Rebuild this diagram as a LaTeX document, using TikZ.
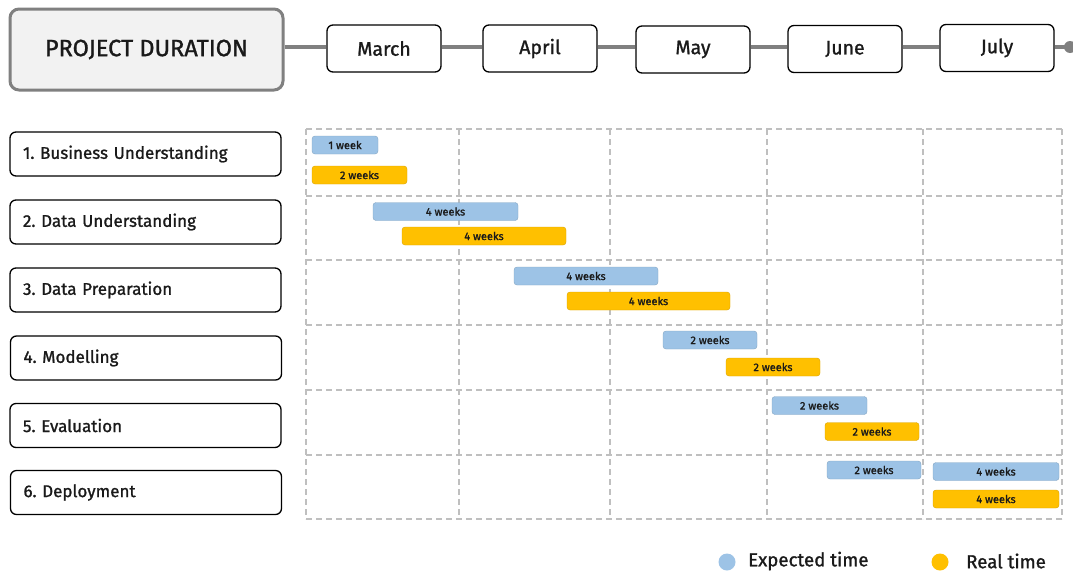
\documentclass[tikz,border=0pt]{standalone}
\usepackage{fontspec}
\setmainfont{Fira Sans}[FakeBold=1.2]
\frenchspacing
\definecolor{expc}{HTML}{9DC3E6}
\definecolor{realc}{HTML}{FFC000}
\definecolor{gridc}{HTML}{BFBFBF}
\definecolor{linec}{HTML}{808080}
\definecolor{txt}{HTML}{1A1A1A}
\tikzset{
  monthbox/.style={draw=black,line width=1.3pt,rounded corners=6pt,fill=white,minimum width=114pt,minimum height=47pt,inner sep=0pt,font=\fontsize{19.5}{21}\selectfont,text=txt},
  taskbox/.style={draw=black,line width=1.3pt,rounded corners=6pt,fill=white,minimum width=271pt,minimum height=44pt,inner sep=0pt,text width=245pt,align=left,font=\fontsize{17}{19}\selectfont,text=txt},
  gridline/.style={draw=gridc,line width=1.5pt,dash pattern=on 6pt off 4pt},
  bartext/.style={font=\fontsize{11}{12}\selectfont,text=txt},
  legtext/.style={font=\fontsize{18.7}{21}\selectfont,text=txt,anchor=west,inner sep=0pt},
  tline/.style={linec,line width=4.5pt}
}
\newcommand\gbar[5]{\node[fill=#1,draw=#1!85!black,line width=0.4pt,rounded corners=3pt,inner sep=0pt,bartext,minimum width={#4-#2},minimum height=18pt] at ({(#2+#4)/2},#3) {#5};}
\begin{document}
\begin{tikzpicture}[x=1pt,y=-1pt]
\useasboundingbox (0,0) rectangle (1073,574);
% header
\node[draw=linec,line width=3pt,rounded corners=9pt,fill=black!5,minimum width=273pt,minimum height=81pt,inner sep=0pt,font=\fontsize{23.5}{25}\selectfont,text=txt] (pd) at (146.5,49.5) {PROJECT DURATION};
\node[monthbox] (m1) at (384,48.5) {March};
\node[monthbox] (m2) at (540,48.5) {April};
\node[monthbox] (m3) at (693,49.5) {May};
\node[monthbox] (m4) at (845,49) {June};
\node[monthbox] (m5) at (997,48) {July};
\coordinate (tend) at (1070,47);
\draw[tline] (pd.east |- tend) -- (m1.west |- tend);
\draw[tline] (m1.east |- tend) -- (m2.west |- tend);
\draw[tline] (m2.east |- tend) -- (m3.west |- tend);
\draw[tline] (m3.east |- tend) -- (m4.west |- tend);
\draw[tline] (m4.east |- tend) -- (m5.west |- tend);
\draw[tline] (m5.east |- tend) -- (tend);
\fill[linec] (tend) circle (6pt);
% tasks
\node[taskbox] (t1) at (145.5,154) {1. Business Understanding};
\node[taskbox] (t2) at (145.5,222) {2. Data Understanding};
\node[taskbox] (t3) at (145.5,290) {3. Data Preparation};
\node[taskbox] (t4) at (146,358) {4. Modelling};
\node[taskbox] (t5) at (145.5,425.5) {5. Evaluation};
\node[taskbox] (t6) at (146,492.5) {6. Deployment};
% grid
\foreach \x in {306,459,610,767,923,1062} \draw[gridline] (\x,129) -- (\x,519);
\foreach \y in {129,196,260,325,390,455,519} \draw[gridline] (306,\y) -- (1062,\y);
% bars
\gbar{expc}{312}{145}{378}{1 week}
\gbar{realc}{312}{175}{407}{2 weeks}
\gbar{expc}{373}{211.5}{518}{4 weeks}
\gbar{realc}{402}{236}{566}{4 weeks}
\gbar{expc}{514}{276}{658}{4 weeks}
\gbar{realc}{567}{301}{730}{4 weeks}
\gbar{expc}{663}{340}{757}{2 weeks}
\gbar{realc}{726}{367}{820}{2 weeks}
\gbar{expc}{772}{405.5}{867}{2 weeks}
\gbar{realc}{825}{431.5}{919}{2 weeks}
\gbar{expc}{827}{470}{921}{2 weeks}
\gbar{expc}{933}{471.5}{1059}{4 weeks}
\gbar{realc}{933}{499}{1059}{4 weeks}
% legend
\fill[expc] (727,562) circle (8.5pt);
\node[legtext] (l1) at (748,561) {Expected time};
\fill[realc] (940,562) circle (8.5pt);
\node[legtext] (l2) at (966,561) {Real time};
\end{tikzpicture}
\end{document}
